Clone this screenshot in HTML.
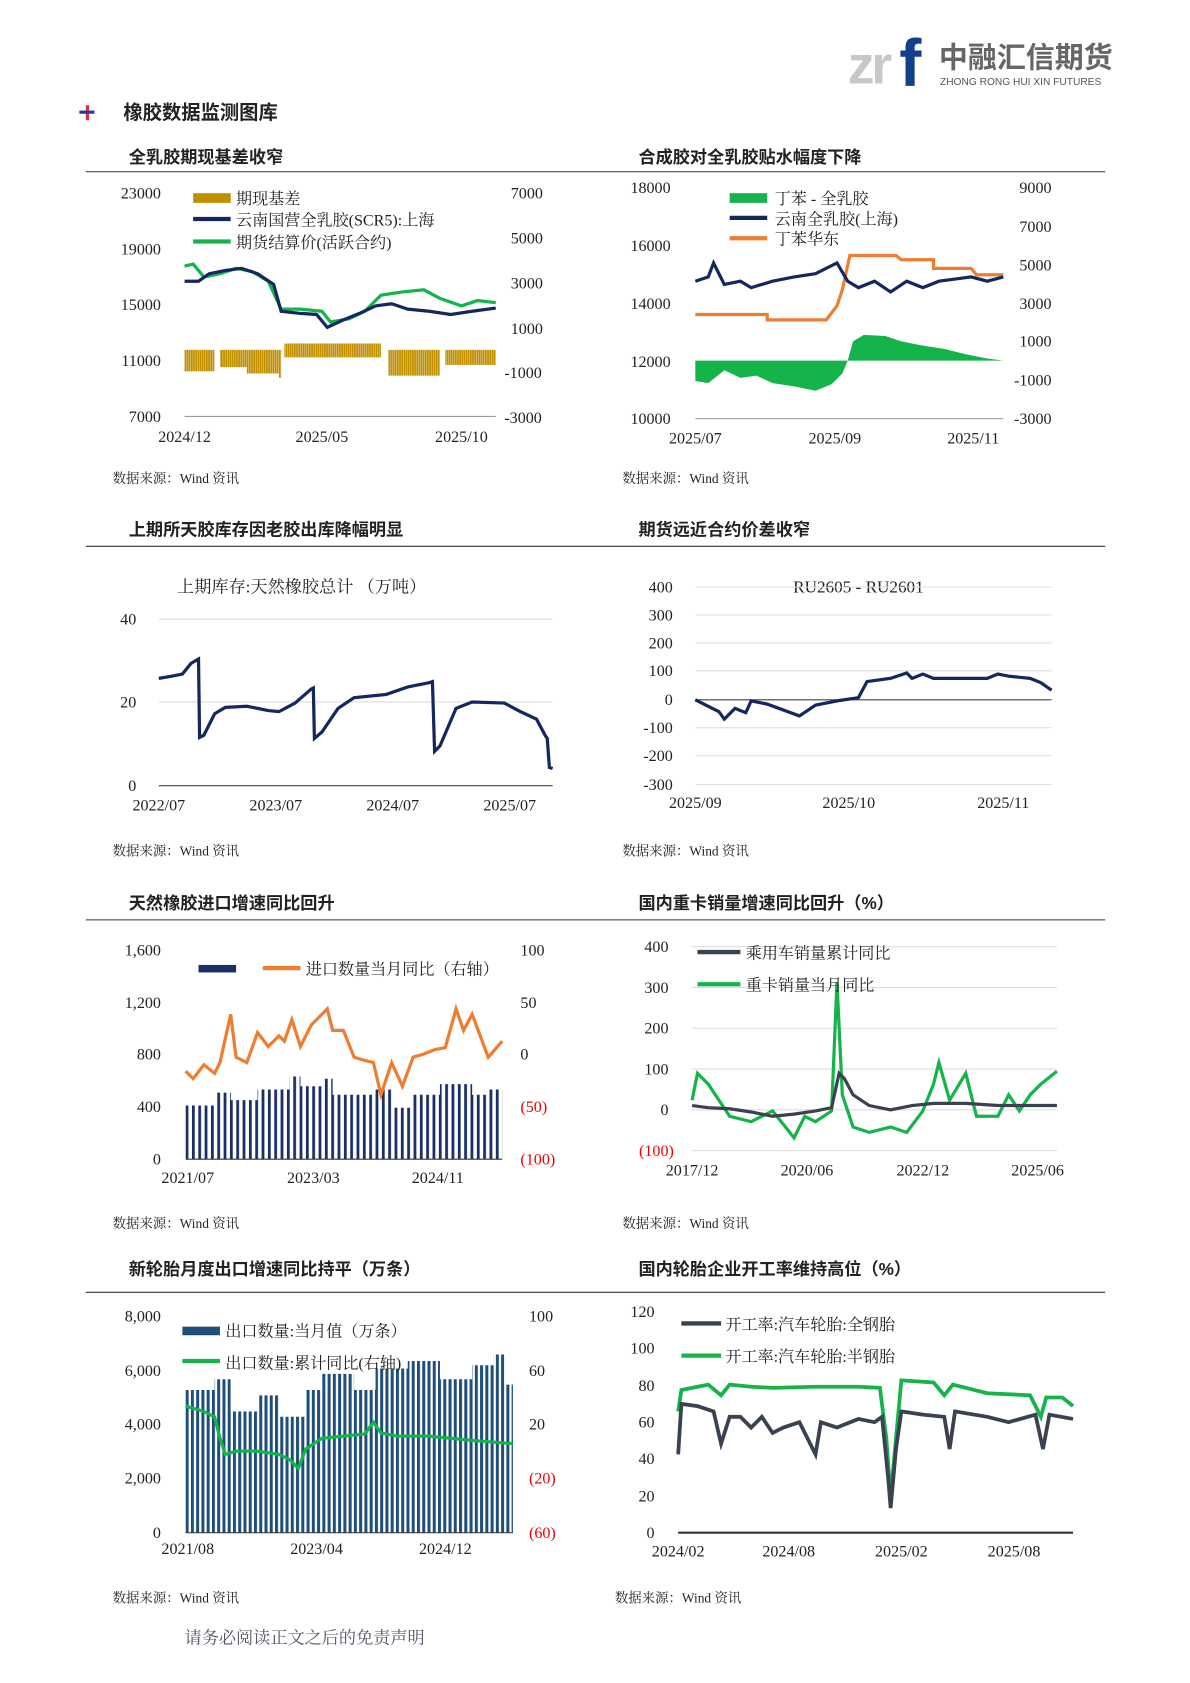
<!DOCTYPE html>
<html><head><meta charset="utf-8"><style>
html,body{margin:0;padding:0;background:#fff;}
svg{display:block;}
text{font-family:"Liberation Serif","Noto Serif CJK SC",serif;fill:#222;}
.t{font-size:15px;}
.h{font-size:16px;font-weight:bold;font-family:"Liberation Sans","Noto Sans CJK SC",sans-serif;}
.s{font-size:12.5px;}
.r{fill:#e00;}
</style></head><body>
<svg width="1190" height="1683" viewBox="0 0 1109 1568" preserveAspectRatio="none" xmlns="http://www.w3.org/2000/svg">
<defs>
<pattern id="pg" width="2" height="10" patternUnits="userSpaceOnUse"><rect width="1.7" height="10" fill="#c09000"/></pattern>
<pattern id="pn" width="5.9" height="10" patternUnits="userSpaceOnUse" x="173"><rect width="2.6" height="10" fill="#1a2f66"/></pattern>
<pattern id="pb" width="4.9" height="10" patternUnits="userSpaceOnUse" x="173"><rect width="2.8" height="10" fill="#1f4e79"/></pattern>
</defs>
<!-- header -->
<text x="790" y="78" style="font-family:'Liberation Sans',sans-serif;font-size:50px;font-weight:bold;fill:#c8c8c8;letter-spacing:-3px">zr</text>
<text x="838" y="80" style="font-family:'Liberation Sans',sans-serif;font-size:62px;font-weight:bold;fill:#123f8a">f</text>
<text x="875" y="63" style="font-family:'Noto Sans CJK SC',sans-serif;font-size:27px;font-weight:bold;fill:#666">中融汇信期货</text>
<text x="876" y="79" style="font-family:'Liberation Sans',sans-serif;font-size:9.5px;fill:#555">ZHONG RONG HUI XIN FUTURES</text>
<rect x="80" y="98" width="3" height="14" fill="#d33"/><rect x="74" y="103" width="14" height="3" fill="#33a"/>
<text x="115" y="111" class="h" style="font-size:18px">橡胶数据监测图库</text>
<!-- titles and lines -->
<text x="120" y="152" class="h">全乳胶期现基差收窄</text><text x="595" y="152" class="h">合成胶对全乳胶贴水幅度下降</text>
<line x1="80" y1="160" x2="1030" y2="160" stroke="#333"/>
<text x="120" y="499" class="h">上期所天胶库存因老胶出库降幅明显</text><text x="595" y="499" class="h">期货远近合约价差收窄</text>
<line x1="80" y1="509" x2="1030" y2="509" stroke="#333"/>
<text x="120" y="847" class="h">天然橡胶进口增速同比回升</text><text x="595" y="847" class="h">国内重卡销量增速同比回升（%）</text>
<line x1="80" y1="857" x2="1030" y2="857" stroke="#333"/>
<text x="120" y="1188" class="h">新轮胎月度出口增速同比持平（万条）</text><text x="595" y="1188" class="h">国内轮胎企业开工率维持高位（%）</text>
<line x1="80" y1="1204" x2="1030" y2="1204" stroke="#333"/>
<g class="s"><text x="105" y="450" class="s">数据来源：Wind 资讯</text><text x="580" y="450" class="s">数据来源：Wind 资讯</text>
<text x="105" y="797" class="s">数据来源：Wind 资讯</text><text x="580" y="797" class="s">数据来源：Wind 资讯</text>
<text x="105" y="1144" class="s">数据来源：Wind 资讯</text><text x="580" y="1144" class="s">数据来源：Wind 资讯</text>
<text x="105" y="1493" class="s">数据来源：Wind 资讯</text><text x="573" y="1493" class="s">数据来源：Wind 资讯</text></g>
<text x="172" y="1531" style="font-size:16px;fill:#556">请务必阅读正文之后的免责声明</text>

<!-- chart1 -->
<g class="t" text-anchor="end"><text x="150" y="185">23000</text><text x="150" y="237">19000</text><text x="150" y="289">15000</text><text x="150" y="341">11000</text><text x="150" y="393">7000</text></g>
<g class="t"><text x="476" y="185">7000</text><text x="476" y="227">5000</text><text x="476" y="269">3000</text><text x="476" y="311">1000</text><text x="470" y="352">-1000</text><text x="470" y="394">-3000</text></g>
<g class="t" text-anchor="middle"><text x="172" y="412">2024/12</text><text x="300" y="412">2025/05</text><text x="430" y="412">2025/10</text></g>
<line x1="172" y1="388" x2="462" y2="388" stroke="#999"/>
<polygon fill="url(#pg)" points="172,326 172,346 200,346 200,326 205,326 205,342 230,342 230,348 260,348 260,352 262,352 262,326 265,326 265,333 355,333 355,326 362,326 362,350 410,350 410,326 415,326 415,340 462,340 462,326 265,326 265,320 355,320 355,326"/>
<polyline fill="none" stroke="#14b44a" stroke-width="3" points="172,248 180,246 190,258 205,255 220,250 235,253 250,262 262,288 280,288 300,290 308,300 325,297 340,290 355,275 375,272 395,270 410,278 430,285 445,280 462,282"/>
<polyline fill="none" stroke="#14275e" stroke-width="3" points="172,262 185,262 195,255 210,252 225,250 240,255 255,265 262,290 280,292 295,293 305,305 320,298 335,292 350,285 365,283 380,288 400,290 420,293 440,290 462,287"/>
<rect x="180" y="180" width="35" height="9" fill="#c09000"/><text x="220" y="190" class="t">期现基差</text>
<line x1="180" y1="204" x2="215" y2="204" stroke="#14275e" stroke-width="4"/><text x="220" y="210" class="t">云南国营全乳胶(SCR5):上海</text>
<line x1="180" y1="225" x2="215" y2="225" stroke="#14b44a" stroke-width="4"/><text x="220" y="231" class="t">期货结算价(活跃合约)</text>

<!-- chart2 -->
<g class="t" text-anchor="end"><text x="625" y="180">18000</text><text x="625" y="234">16000</text><text x="625" y="288">14000</text><text x="625" y="342">12000</text><text x="625" y="395">10000</text></g>
<g class="t"><text x="950" y="180">9000</text><text x="950" y="216">7000</text><text x="950" y="252">5000</text><text x="950" y="288">3000</text><text x="950" y="323">1000</text><text x="945" y="359">-1000</text><text x="945" y="395">-3000</text></g>
<g class="t" text-anchor="middle"><text x="648" y="413">2025/07</text><text x="778" y="413">2025/09</text><text x="907" y="413">2025/11</text></g>
<line x1="648" y1="390" x2="935" y2="390" stroke="#999"/>
<polygon fill="#14b44a" points="648,336 648,355 660,357 675,345 690,352 705,350 720,357 740,360 760,364 775,358 785,348 790,336 795,318 805,312 825,313 840,318 860,322 880,325 900,330 920,334 935,336"/>
<polyline fill="none" stroke="#ed7d31" stroke-width="3" points="648,293 715,293 715,298 770,298 780,285 785,270 792,238 835,238 840,242 870,242 870,250 905,250 910,256 935,256"/>
<polyline fill="none" stroke="#14275e" stroke-width="3" points="648,262 660,258 665,245 675,265 690,262 700,268 720,262 740,258 760,255 780,245 790,262 800,268 815,262 830,272 845,262 860,268 875,262 890,260 905,258 920,262 935,258"/>
<rect x="680" y="180" width="35" height="9" fill="#14b44a"/><text x="722" y="190" class="t">丁苯 - 全乳胶</text>
<line x1="680" y1="203" x2="715" y2="203" stroke="#14275e" stroke-width="4"/><text x="722" y="209" class="t">云南全乳胶(上海)</text>
<line x1="680" y1="222" x2="715" y2="222" stroke="#ed7d31" stroke-width="4"/><text x="722" y="228" class="t">丁苯华东</text>

<!-- chart3 -->
<text x="165" y="552" style="font-size:16px">上期库存:天然橡胶总计 （万吨）</text>
<line x1="148" y1="577" x2="515" y2="577" stroke="#ddd"/><line x1="148" y1="654" x2="515" y2="654" stroke="#ddd"/><line x1="148" y1="732" x2="515" y2="732" stroke="#444"/>
<g class="t" text-anchor="end"><text x="127" y="582">40</text><text x="127" y="659">20</text><text x="127" y="737">0</text></g>
<g class="t" text-anchor="middle"><text x="148" y="755">2022/07</text><text x="257" y="755">2023/07</text><text x="366" y="755">2024/07</text><text x="475" y="755">2025/07</text></g>
<polyline fill="none" stroke="#14275e" stroke-width="3" points="148,632 160,630 170,628 178,618 185,614 186,687 190,685 200,665 210,659 230,658 250,662 260,663 275,655 290,642 292,641 293,688 300,682 315,660 330,650 360,647 380,640 400,636 403,635 405,700 410,695 425,660 440,654 470,655 485,663 500,670 508,685 510,688 512,715 515,716"/>

<!-- chart4 -->
<text x="800" y="552" text-anchor="middle" style="font-size:16px">RU2605 - RU2601</text>
<g stroke="#ddd"><line x1="648" y1="547" x2="980" y2="547"/><line x1="648" y1="573" x2="980" y2="573"/><line x1="648" y1="599" x2="980" y2="599"/><line x1="648" y1="625" x2="980" y2="625"/><line x1="648" y1="678" x2="980" y2="678"/><line x1="648" y1="704" x2="980" y2="704"/><line x1="648" y1="731" x2="980" y2="731"/></g>
<line x1="648" y1="652" x2="980" y2="652" stroke="#444"/>
<g class="t" text-anchor="end"><text x="627" y="552">400</text><text x="627" y="578">300</text><text x="627" y="604">200</text><text x="627" y="630">100</text><text x="627" y="657">0</text><text x="627" y="683">-100</text><text x="627" y="709">-200</text><text x="627" y="736">-300</text></g>
<g class="t" text-anchor="middle"><text x="648" y="753">2025/09</text><text x="791" y="753">2025/10</text><text x="935" y="753">2025/11</text></g>
<polyline fill="none" stroke="#14275e" stroke-width="3" points="648,652 660,658 670,663 675,670 685,660 695,664 700,653 715,656 745,667 760,657 780,653 800,650 808,635 830,632 845,627 850,632 860,628 870,632 900,632 920,632 930,628 940,630 960,632 970,636 980,643"/>

<!-- chart5 -->
<g class="t" text-anchor="end"><text x="150" y="890">1,600</text><text x="150" y="939">1,200</text><text x="150" y="987">800</text><text x="150" y="1036">400</text><text x="150" y="1085">0</text></g>
<g class="t"><text x="485" y="890">100</text><text x="485" y="939">50</text><text x="485" y="987">0</text><text x="485" y="1036" class="r">(50)</text><text x="485" y="1085" class="r">(100)</text></g>
<g class="t" text-anchor="middle"><text x="175" y="1102">2021/07</text><text x="292" y="1102">2023/03</text><text x="408" y="1102">2024/11</text></g>
<polygon fill="url(#pn)" points="173,1080 173,1030 200,1030 200,1018 215,1018 215,1025 240,1025 240,1015 270,1015 270,1003 280,1003 280,1012 300,1012 300,1005 310,1005 310,1020 350,1020 350,1015 365,1015 365,1032 385,1032 385,1020 410,1020 410,1010 440,1010 440,1020 455,1020 455,1015 468,1015 468,1080"/>
<line x1="173" y1="1080" x2="468" y2="1080" stroke="#333"/>
<polyline fill="none" stroke="#ed7d31" stroke-width="3" points="173,998 180,1005 190,992 200,1000 205,990 215,945 220,985 230,990 240,962 250,975 260,965 265,970 272,950 280,975 290,955 305,940 310,960 320,960 330,985 340,988 348,990 355,1020 365,990 375,1012 385,985 395,982 405,978 415,976 425,940 432,960 440,945 455,985 468,970"/>
<rect x="185" y="899" width="35" height="7" fill="#1a2f66"/>
<line x1="245" y1="902" x2="280" y2="902" stroke="#ed7d31" stroke-width="4"/><text x="285" y="908" class="t">进口数量当月同比（右轴）</text>

<!-- chart6 -->
<g stroke="#ddd"><line x1="645" y1="882" x2="985" y2="882"/><line x1="645" y1="920" x2="985" y2="920"/><line x1="645" y1="958" x2="985" y2="958"/><line x1="645" y1="996" x2="985" y2="996"/><line x1="645" y1="1034" x2="985" y2="1034"/><line x1="645" y1="1072" x2="985" y2="1072"/></g>
<g class="t" text-anchor="end"><text x="623" y="887">400</text><text x="623" y="925">300</text><text x="623" y="963">200</text><text x="623" y="1001">100</text><text x="623" y="1039">0</text><text x="628" y="1077" class="r">(100)</text></g>
<g class="t" text-anchor="middle"><text x="645" y="1095">2017/12</text><text x="752" y="1095">2020/06</text><text x="860" y="1095">2022/12</text><text x="967" y="1095">2025/06</text></g>
<polyline fill="none" stroke="#14b44a" stroke-width="3" points="645,1025 650,1000 660,1010 670,1025 680,1040 700,1045 720,1035 740,1060 750,1040 760,1045 775,1035 780,915 785,1020 795,1050 810,1055 830,1050 845,1055 860,1035 870,1010 875,990 885,1025 900,1000 910,1040 930,1040 940,1020 950,1035 960,1020 970,1010 985,998"/>
<polyline fill="none" stroke="#3a4150" stroke-width="3" points="645,1030 660,1032 680,1033 700,1036 720,1040 740,1038 760,1035 775,1032 782,1000 787,1005 795,1020 810,1030 830,1034 850,1030 870,1028 900,1028 930,1030 960,1030 985,1030"/>
<line x1="650" y1="887" x2="690" y2="887" stroke="#3a4150" stroke-width="4"/><text x="695" y="893" class="t">乘用车销量累计同比</text>
<line x1="650" y1="917" x2="690" y2="917" stroke="#14b44a" stroke-width="4"/><text x="695" y="923" class="t">重卡销量当月同比</text>

<!-- chart7 -->
<g class="t" text-anchor="end"><text x="150" y="1231">8,000</text><text x="150" y="1282">6,000</text><text x="150" y="1332">4,000</text><text x="150" y="1382">2,000</text><text x="150" y="1433">0</text></g>
<g class="t"><text x="493" y="1231">100</text><text x="493" y="1282">60</text><text x="493" y="1332">20</text><text x="493" y="1382" class="r">(20)</text><text x="493" y="1433" class="r">(60)</text></g>
<g class="t" text-anchor="middle"><text x="175" y="1448">2021/08</text><text x="295" y="1448">2023/04</text><text x="415" y="1448">2024/12</text></g>
<polygon fill="url(#pb)" points="173,1428 173,1295 200,1295 200,1285 215,1285 215,1315 240,1315 240,1300 260,1300 260,1320 285,1320 285,1295 300,1295 300,1280 330,1280 330,1295 350,1295 350,1275 380,1275 380,1268 410,1268 410,1285 440,1285 440,1272 460,1272 460,1262 470,1262 470,1290 478,1290 478,1428"/>
<line x1="173" y1="1428" x2="478" y2="1428" stroke="#333"/>
<polyline fill="none" stroke="#14b44a" stroke-width="3" points="173,1310 190,1315 200,1320 205,1340 210,1355 220,1352 240,1352 260,1355 270,1360 278,1368 285,1350 300,1340 320,1338 340,1336 348,1325 355,1335 370,1338 400,1338 420,1340 440,1342 478,1345"/>
<rect x="170" y="1236" width="35" height="8" fill="#1f4e79"/><text x="210" y="1245" class="t">出口数量:当月值（万条）</text>
<line x1="170" y1="1268" x2="205" y2="1268" stroke="#14b44a" stroke-width="4"/><text x="210" y="1275" class="t">出口数量:累计同比(右轴)</text>

<!-- chart8 -->
<g class="t" text-anchor="end"><text x="610" y="1227">120</text><text x="610" y="1261">100</text><text x="610" y="1296">80</text><text x="610" y="1330">60</text><text x="610" y="1364">40</text><text x="610" y="1399">20</text><text x="610" y="1433">0</text></g>
<g class="t" text-anchor="middle"><text x="632" y="1450">2024/02</text><text x="735" y="1450">2024/08</text><text x="840" y="1450">2025/02</text><text x="945" y="1450">2025/08</text></g>
<line x1="632" y1="1428" x2="1000" y2="1428" stroke="#333" stroke-width="2"/>
<polyline fill="none" stroke="#14b44a" stroke-width="3.5" points="632,1315 635,1295 660,1290 672,1300 680,1290 700,1292 720,1293 760,1292 800,1292 820,1293 826,1340 830,1395 835,1340 840,1286 870,1288 880,1300 888,1290 920,1298 960,1300 970,1320 975,1302 990,1302 1000,1310"/>
<polyline fill="none" stroke="#3a4150" stroke-width="3.5" points="632,1355 635,1308 650,1310 665,1315 672,1345 680,1320 690,1320 700,1330 710,1320 720,1335 730,1330 745,1325 760,1355 765,1325 780,1330 800,1322 815,1325 822,1320 828,1380 830,1405 835,1350 840,1315 860,1318 880,1320 885,1350 890,1315 920,1320 940,1325 965,1318 972,1350 978,1318 1000,1322"/>
<line x1="635" y1="1233" x2="672" y2="1233" stroke="#3a4150" stroke-width="4"/><text x="676" y="1239" class="t">开工率:汽车轮胎:全钢胎</text>
<line x1="635" y1="1263" x2="672" y2="1263" stroke="#14b44a" stroke-width="4"/><text x="676" y="1269" class="t">开工率:汽车轮胎:半钢胎</text>
</svg>
</body></html>
